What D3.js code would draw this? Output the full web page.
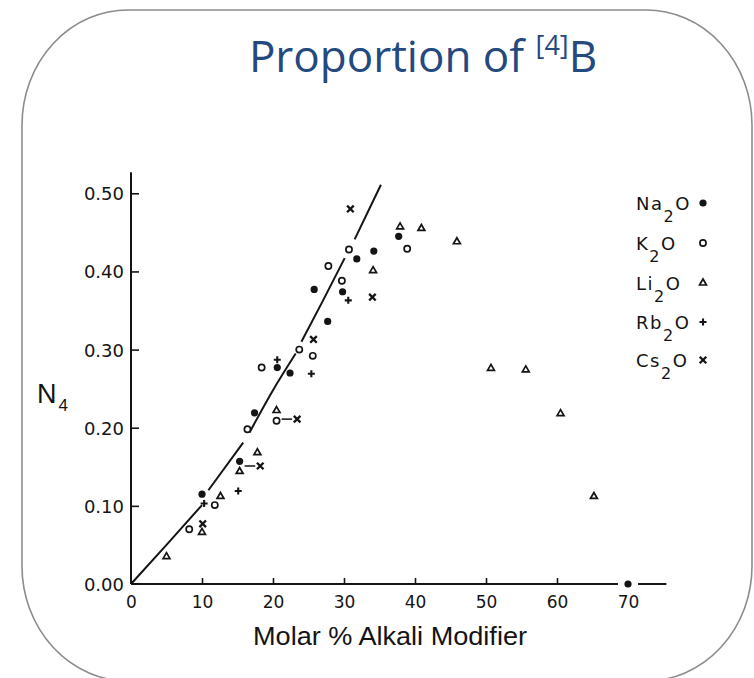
<!DOCTYPE html>
<html>
<head>
<meta charset="utf-8">
<script src="https://cdn.jsdelivr.net/npm/d3@7"></script>
<style>
  html, body { margin: 0; padding: 0; background: #ffffff; }
  svg { display: block; }
</style>
</head>
<body>
<svg id="chart" width="754" height="678"></svg>
<script>
// ---- data: [molar % alkali modifier, N4] ----
const na2o = [[10, 0.115], [15.3, 0.157], [17.4, 0.219], [20.6, 0.277], [22.4, 0.270],
              [25.8, 0.377], [27.7, 0.336], [29.8, 0.374], [31.8, 0.416], [34.2, 0.426],
              [37.7, 0.445], [70, 0.0]];
const k2o  = [[8.2, 0.070], [11.8, 0.101], [16.4, 0.198], [18.4, 0.277], [20.5, 0.209],
              [23.7, 0.300], [25.6, 0.292], [27.8, 0.407], [29.7, 0.388], [30.7, 0.428],
              [38.9, 0.429]];
const li2o = [[5, 0.035], [10, 0.066], [12.6, 0.112], [15.3, 0.144], [17.8, 0.168],
              [20.5, 0.222], [34.1, 0.401], [37.9, 0.457], [40.9, 0.455], [45.9, 0.438],
              [50.7, 0.276], [55.6, 0.274], [60.5, 0.218], [65.2, 0.112]];
const rb2o = [[10.3, 0.103], [15.1, 0.119], [20.6, 0.287], [25.4, 0.269], [30.6, 0.363]];
const cs2o = [[10.1, 0.077], [18.2, 0.151], [23.4, 0.211], [25.7, 0.313], [30.9, 0.480],
              [34.0, 0.367]];

// short dashes tying together points measured on the same glass
const connectors = [[[15.3, 0.151], [18.2, 0.151]], [[20.5, 0.211], [23.4, 0.211]]];

// model curve, broken where it passes behind data points (null = break)
const modelCurve = [[0, 0], [5, 0.050], [10.0, 0.101], null,
                    [10.9, 0.120], [15.8, 0.181], null,
                    [16.7, 0.194], [20, 0.248], [23.2, 0.295], null,
                    [24.0, 0.310], [27, 0.362], [30.1, 0.417], null,
                    [31.5, 0.441], [35.2, 0.511]];

const xTickLabels = [0, 10, 20, 30, 40, 50, 60, 70];
const xTickMarks  = [10, 20, 30, 40, 50, 60];
const yTicks      = [0, 0.1, 0.2, 0.3, 0.4, 0.5];

const seriesNames = ["Na", "K", "Li", "Rb", "Cs"];

// ---- drawing ----
const svg = d3.select("#chart");
const ink = "#141414";

// slide frame
svg.append("rect").attr("x", 22).attr("y", 10).attr("width", 730).attr("height", 671)
  .attr("rx", 106).attr("ry", 115)
  .attr("fill", "none").attr("stroke", "#8c8c8c").attr("stroke-width", 1.6);

// title
const title = svg.append("text").attr("x", 423).attr("y", 72)
  .attr("text-anchor", "middle")
  .attr("font-family", "'Open Sans', 'Noto Sans', sans-serif")
  .attr("font-size", 44).attr("fill", "#24497f");
title.append("tspan").text("Proportion of ");
title.append("tspan").attr("font-size", 27).attr("dy", -17).text("[4]");
title.append("tspan").attr("dy", 17).text("B");

const x = d3.scaleLinear().domain([0, 70]).range([131, 628]);
const y = d3.scaleLinear().domain([0, 0.5]).range([584, 193.3]);

// axes lines
svg.append("line").attr("x1", x(0)).attr("x2", x(0)).attr("y1", y(0)).attr("y2", y(0.527))
  .attr("stroke", ink).attr("stroke-width", 2);
svg.append("line").attr("x1", x(0)).attr("x2", x(75.4)).attr("y1", y(0)).attr("y2", y(0))
  .attr("stroke", ink).attr("stroke-width", 2);

// y axis ticks (inward) and labels
const yAxis = d3.axisLeft(y).tickValues(yTicks).tickFormat(d3.format(".2f"))
  .tickSizeInner(-8).tickSizeOuter(0).tickPadding(7);
const gy = svg.append("g").attr("transform", `translate(${x(0)},0)`).call(yAxis);
gy.select(".domain").remove();
gy.selectAll(".tick line").attr("stroke", ink).attr("stroke-width", 1.6)
  .filter(d => d === 0).remove();
gy.selectAll(".tick text").attr("font-family", "'DejaVu Sans', sans-serif")
  .attr("font-size", 18).attr("fill", ink).attr("dy", "0.36em");

// x axis ticks (inward) and labels
const xAxis = d3.axisBottom(x).tickValues(xTickLabels).tickFormat(d3.format("d"))
  .tickSizeInner(-6).tickSizeOuter(0).tickPadding(12);
const gx = svg.append("g").attr("transform", `translate(0,${y(0)})`).call(xAxis);
gx.select(".domain").remove();
gx.selectAll(".tick line").attr("stroke", ink).attr("stroke-width", 1.6)
  .filter(d => !xTickMarks.includes(d)).remove();
gx.selectAll(".tick text").attr("font-family", "'DejaVu Sans', sans-serif")
  .attr("font-size", 17).attr("fill", ink);

// axis titles
svg.append("text").attr("x", 390).attr("y", 645).attr("text-anchor", "middle")
  .attr("font-family", "'Liberation Sans', Arial, sans-serif").attr("font-size", 25)
  .attr("textLength", 274).attr("lengthAdjust", "spacingAndGlyphs")
  .attr("fill", ink).text("Molar % Alkali Modifier");
const nLab = svg.append("text").attr("x", 37).attr("y", 403)
  .attr("font-family", "'Liberation Sans', Arial, sans-serif").attr("font-size", 27)
  .attr("fill", ink);
nLab.append("tspan").text("N");
nLab.append("tspan").attr("font-size", 17).attr("dx", 2).attr("dy", 8).text("4");

// model curve
const line = d3.line().defined(d => d !== null)
  .x(d => x(d[0])).y(d => y(d[1])).curve(d3.curveMonotoneX);
svg.append("path").attr("d", line(modelCurve))
  .attr("fill", "none").attr("stroke", ink).attr("stroke-width", 2);

// connectors
connectors.forEach(([a, b]) => {
  svg.append("line").attr("x1", x(a[0]) + 5).attr("x2", x(b[0]) - 5)
    .attr("y1", y(a[1])).attr("y2", y(b[1]))
    .attr("stroke", ink).attr("stroke-width", 1.5);
});

// marker painters
const markers = {
  Na: (g) => g.append("circle").attr("r", 3.6).attr("fill", ink),
  K:  (g) => g.append("circle").attr("r", 3.1).attr("fill", "#fff")
               .attr("stroke", ink).attr("stroke-width", 1.7),
  Li: (g) => g.append("path").attr("d", d3.symbol(d3.symbolTriangle2, 34)())
               .attr("fill", "#fff").attr("stroke", ink).attr("stroke-width", 1.7),
  Rb: (g) => g.append("path").attr("d", d3.symbol(d3.symbolPlus, 18)())
               .attr("fill", "none").attr("stroke", ink).attr("stroke-width", 2.1),
  Cs: (g) => g.append("path").attr("d", d3.symbol(d3.symbolTimes, 30)())
               .attr("fill", "none").attr("stroke", ink).attr("stroke-width", 2.3)
};

const seriesData = { Na: na2o, K: k2o, Li: li2o, Rb: rb2o, Cs: cs2o };
seriesNames.forEach(name => {
  seriesData[name].forEach(d => {
    const g = svg.append("g").attr("transform", `translate(${x(d[0])},${y(d[1])})`);
    if (d[1] === 0) {
      // clear the axis around points sitting on it
      g.append("rect").attr("x", -10).attr("y", -3).attr("width", 20).attr("height", 6)
        .attr("fill", "#ffffff");
    }
    markers[name](g);
  });
});

// legend
const legendRows = [
  { name: "Na", lead: "Na", base: 210 },
  { name: "K",  lead: "K",  base: 250 },
  { name: "Li", lead: "Li", base: 290 },
  { name: "Rb", lead: "Rb", base: 329 },
  { name: "Cs", lead: "Cs", base: 367 }
];
legendRows.forEach(r => {
  const t = svg.append("text").attr("x", 636).attr("y", r.base)
    .attr("font-family", "'DejaVu Sans', sans-serif").attr("font-size", 18)
    .attr("letter-spacing", 1.5).attr("fill", ink);
  t.append("tspan").text(r.lead);
  t.append("tspan").attr("font-size", 16).attr("dy", 12).text("2");
  t.append("tspan").attr("dy", -12).text("O");
  const g = svg.append("g").attr("transform", `translate(703,${r.base - 7})`);
  markers[r.name](g);
});
</script>
</body>
</html>
